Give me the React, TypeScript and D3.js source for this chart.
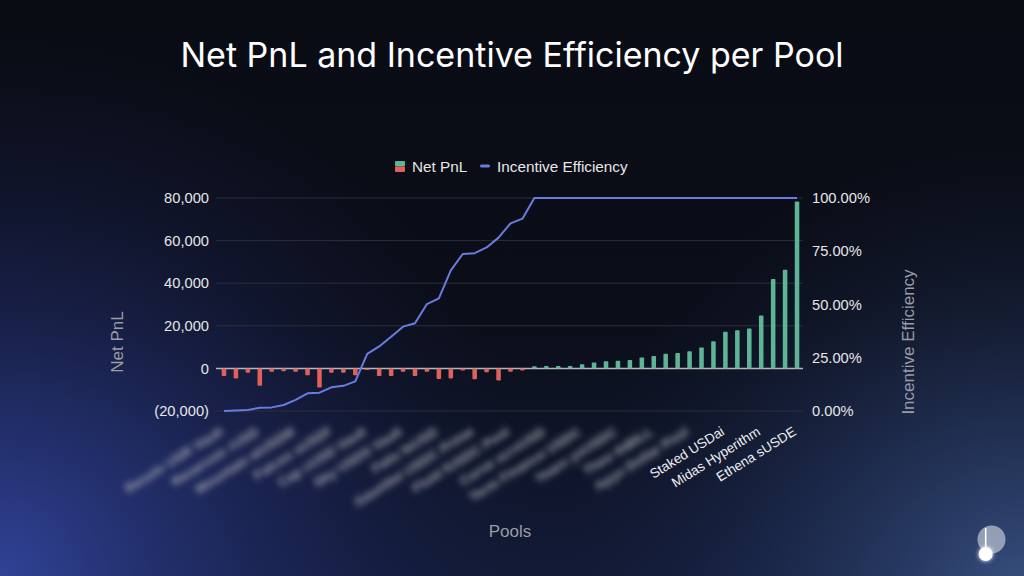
import React from "react";
import * as d3 from "d3";

const pools: string[] = [
  "Resolv USR Vault", "Level lvlUSD Pool", "Usual USD0++", "Reservoir rUSD", "Frax sfrxUSD Pool",
  "Elixir deUSD Vault", "Mountain wUSDM", "Agora AUSD Pool", "Avalon USDa Vault", "Falcon sUSDf",
  "Noon USN Pool", "Open Eden TBILL", "Cap cUSD Vault", "Hyperbeat USDT", "Spark sUSDS Pool",
  "Sky USDS Vault", "Yield Nest ynUSD", "Ondo USDY Pool", "Felix feUSD", "Superform sfUSDC",
  "Morpho Steakhouse", "Gauntlet USDC Prime", "Euler eUSDe", "Pendle PT sUSDe", "Fluid fUSDC Pool",
  "Angle stUSD Vault", "Inverse sDOLA", "Curve scrvUSD", "Aave aUSDC Pool", "Sonic USDC.e",
  "Term Finance USDC", "Maple syrupUSDC", "Re7 USDT Vault", "Yearn yvUSDC", "Mev Capital USDC",
  "Hyperithm USDe", "Theo thBILL", "Usual USDS Pool", "Syrup USDT Vault", "Apyx Dollar Pool",
  "Infini USDC", "Gearbox USDC", "Staked USDai", "Lista lisUSD", "Avant savUSD",
  "Midas Hyperithm", "Resolv wstUSR", "Ethena USDtb", "Ethena sUSDE",
];

const netPnl: number[] = [
  -3600, -4700, -2000, -8200, -1600, -1300, -1600, -3200, -9000, -2000,
  -2000, -3200, -800, -3600, -3600, -1600, -3600, -1600, -5000, -4700,
  -1000, -5100, -1800, -5700, -1600, -1000, 1000, 1100, 1100, 1100,
  2000, 2800, 3300, 3600, 4000, 5100, 5800, 6900, 7200, 8000,
  9800, 12800, 17200, 17900, 18700, 24800, 42000, 46300, 78300,
];

const efficiency: number[] = [
  0, 0.002, 0.005, 0.015, 0.017, 0.028, 0.052, 0.083, 0.086, 0.111,
  0.118, 0.139, 0.268, 0.303, 0.349, 0.396, 0.412, 0.502, 0.529, 0.66,
  0.737, 0.741, 0.768, 0.814, 0.881, 0.903, 1, 1, 1, 1,
  1, 1, 1, 1, 1, 1, 1, 1, 1, 1,
  1, 1, 1, 1, 1, 1, 1, 1, 1,
];

const leftTicks: number[] = [-20000, 0, 20000, 40000, 60000, 80000];
const rightTicks: number[] = [0, 0.25, 0.5, 0.75, 1];
const clearLabels: string[] = ["Staked USDai", "Midas Hyperithm", "Ethena sUSDE"];

const W = 1024;
const H = 576;
const PLOT = { left: 218, right: 803, top: 198, bottom: 411 };

const GREEN = "#5db596";
const RED = "#e0615b";
const BLUE = "#6a7ddf";
const TEXT = "#e6e6e6";
const MUTED = "#9a9ca6";
const SANS = "'Liberation Sans', Arial, sans-serif";

export default function App() {
  const idx = pools.map((_, i) => i);
  const x = d3.scaleBand<number>().domain(idx).range([PLOT.left, PLOT.right]).padding(0);
  const bw = x.bandwidth() * 0.38;
  const cx = (i: number) => (x(i) as number) + x.bandwidth() / 2;
  const yL = d3.scaleLinear().domain([-20000, 80000]).range([PLOT.bottom, PLOT.top]);
  const yR = d3.scaleLinear().domain([0, 1]).range([PLOT.bottom, PLOT.top]);
  const fmtL = (v: number) => (v < 0 ? `(${d3.format(",")(-v)})` : d3.format(",")(v));
  const fmtR = d3.format(".2%");
  const line = d3
    .line<number>()
    .x((_, i) => cx(i))
    .y((d) => yR(d));

  return (
    <svg
      width={W}
      height={H}
      style={{ position: "absolute", left: 0, top: 0, display: "block" }}
    >
      <defs>
        <linearGradient id="bgBase" x1="0" y1="0" x2="0" y2="1">
          <stop offset="0" stopColor="#0a0c14" />
          <stop offset="0.55" stopColor="#0b0e19" />
          <stop offset="1" stopColor="#121a36" />
        </linearGradient>
        <radialGradient id="glowL" cx="0" cy="576" r="540" gradientUnits="userSpaceOnUse">
          <stop offset="0" stopColor="#3447a2" stopOpacity="0.9" />
          <stop offset="0.5" stopColor="#26337a" stopOpacity="0.45" />
          <stop offset="1" stopColor="#151d45" stopOpacity="0" />
        </radialGradient>
        <radialGradient id="glowR" cx="1024" cy="600" r="460" gradientUnits="userSpaceOnUse">
          <stop offset="0" stopColor="#3f5a8e" stopOpacity="0.85" />
          <stop offset="0.55" stopColor="#283c68" stopOpacity="0.4" />
          <stop offset="1" stopColor="#18223f" stopOpacity="0" />
        </radialGradient>
        <filter id="blurLbl" x="-20%" y="-60%" width="140%" height="220%">
          <feGaussianBlur stdDeviation="3.2" />
        </filter>
        <filter id="glowDot" x="-100%" y="-100%" width="300%" height="300%">
          <feGaussianBlur stdDeviation="2" result="b" />
          <feMerge>
            <feMergeNode in="b" />
            <feMergeNode in="SourceGraphic" />
          </feMerge>
        </filter>
      </defs>

      <rect width={W} height={H} fill="url(#bgBase)" />
      <rect width={W} height={H} fill="url(#glowL)" />
      <rect width={W} height={H} fill="url(#glowR)" />

      {/* Title */}
      <text
        x={512}
        y={67}
        textAnchor="middle"
        fill="#ffffff"
        fontFamily="Inter, 'Noto Sans', sans-serif"
        fontSize={34}
        fontWeight={400}
      >
        Net PnL and Incentive Efficiency per Pool
      </text>

      {/* Legend */}
      <g fontFamily={SANS} fontSize={15.3} fill={TEXT}>
        <rect x={395} y={161} width={10} height={5.5} fill={GREEN} rx={1} />
        <rect x={395} y={166.5} width={10} height={5.5} fill={RED} rx={1} />
        <text x={412} y={171.5}>Net PnL</text>
        <rect x={480} y={164.5} width={10} height={3} fill={BLUE} rx={1.5} />
        <text x={497} y={171.5}>Incentive Efficiency</text>
      </g>

      {/* Gridlines */}
      {leftTicks.map((t) => (
        <line
          key={t}
          x1={PLOT.left - 2}
          x2={PLOT.right}
          y1={yL(t)}
          y2={yL(t)}
          stroke={t === 0 ? "#b4b6bc" : "#2b2f3b"}
          strokeWidth={t === 0 ? 1.5 : 1}
        />
      ))}

      {/* Left ticks */}
      <g fontFamily={SANS} fontSize={14.7} fill={TEXT} textAnchor="end">
        {leftTicks.map((t) => (
          <text key={t} x={209} y={yL(t)} dy="0.35em">
            {fmtL(t)}
          </text>
        ))}
      </g>

      {/* Right ticks */}
      <g fontFamily={SANS} fontSize={14.7} fill={TEXT} textAnchor="start">
        {rightTicks.map((t) => (
          <text key={t} x={812} y={yR(t)} dy="0.35em">
            {fmtR(t)}
          </text>
        ))}
      </g>

      {/* Bars */}
      {netPnl.map((v, i) => {
        const y0 = yL(0);
        const y1 = yL(v);
        return (
          <rect
            key={i}
            x={cx(i) - bw / 2}
            y={Math.min(y0, y1)}
            width={bw}
            height={Math.abs(y1 - y0)}
            fill={v >= 0 ? GREEN : RED}
            rx={0.8}
          />
        );
      })}

      {/* Line */}
      <path d={line(efficiency) || ""} fill="none" stroke={BLUE} strokeWidth={2} strokeLinejoin="round" />

      {/* X labels (every third pool) */}
      <g fontFamily={SANS} fontSize={13.5} textAnchor="end">
        {pools.map((p, i) => {
          if (i % 3 !== 0) return null;
          const clear = clearLabels.includes(p);
          const lx = cx(i);
          const ly = PLOT.bottom + 23;
          return (
            <text
              key={i}
              x={lx}
              y={ly}
              transform={`rotate(-32 ${lx} ${ly})`}
              fill={clear ? "#f0f0f0" : "#a2a4ac"}
              fontWeight={clear ? 400 : 700}
              filter={clear ? undefined : "url(#blurLbl)"}
            >
              {p}
            </text>
          );
        })}
      </g>

      {/* Axis titles */}
      <g fontFamily={SANS} fontSize={17} fill={MUTED} textAnchor="middle">
        <text transform="translate(123 342) rotate(-90)">Net PnL</text>
        <text transform="translate(914 342) rotate(-90)">Incentive Efficiency</text>
        <text x={510} y={537}>Pools</text>
      </g>

      {/* Logo */}
      <g>
        <circle cx={991.5} cy={539.5} r={14} fill="#d8dce6" fillOpacity={0.6} />
        <line x1={985.7} y1={528} x2={985.7} y2={552} stroke="#ffffff" strokeWidth={1.6} />
        <circle cx={985.7} cy={554} r={7} fill="#ffffff" filter="url(#glowDot)" />
      </g>
    </svg>
  );
}
